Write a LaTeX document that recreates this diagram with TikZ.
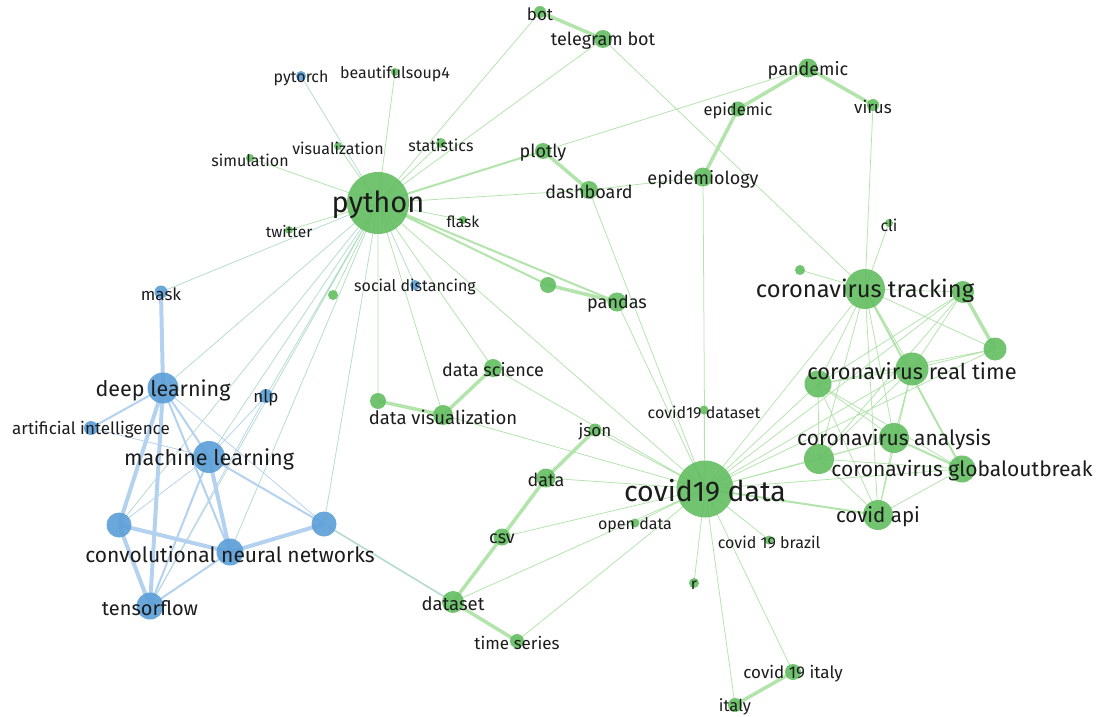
\documentclass[tikz,border=0pt]{standalone}
\usepackage{fontspec}
\setmainfont{Fira Sans}
\usetikzlibrary{backgrounds}

\definecolor{nodegreen}{RGB}{102,191,100}
\definecolor{nodeblue}{RGB}{94,160,216}
\definecolor{edgegreen}{RGB}{178,228,172}
\definecolor{edgeblue}{RGB}{180,210,240}
\definecolor{edgemix}{RGB}{180,220,205}
\definecolor{labelgray}{RGB}{28,28,28}

\pgfdeclarelayer{bg}
\pgfsetlayers{bg,main}

\begin{document}
\begin{tikzpicture}[
        x=1pt, y=-1pt,
        gn/.style={circle, inner sep=0pt, fill=nodegreen, fill opacity=0.92, minimum size=#1},
        bn/.style={circle, inner sep=0pt, fill=nodeblue, fill opacity=0.92, minimum size=#1},
        ge/.style={draw=edgegreen, line width=0.75pt},
        gm/.style={draw=edgegreen, line width=2pt},
        gt/.style={draw=edgegreen, line width=3.5pt},
        be/.style={draw=edgeblue, line width=0.75pt},
        bm/.style={draw=edgeblue, line width=2pt},
        bt/.style={draw=edgeblue, line width=4pt},
        me/.style={draw=edgemix, line width=0.75pt},
        lbl/.style={inner sep=0pt, yshift=-2pt, text=labelgray, font=\fontsize{#1}{#1}\selectfont}
    ]

    \begin{pgfonlayer}{bg}
    \fill[white] (0,0) rectangle (1101,717);
    \end{pgfonlayer}
    \useasboundingbox (0,0) rectangle (1101,717);

    % python cluster
    \node[gn=62] (py) at (378,203) {};
    \node[gn=12] (bot) at (540,12) {};
    \node[gn=18] (tgbot) at (603,39) {};
    \node[gn=8] (bs4) at (395,72) {};
    \node[gn=8] (vis) at (338,146) {};
    \node[gn=10] (stat) at (441,143) {};
    \node[gn=8] (sim) at (250,158) {};
    \node[gn=16] (plotly) at (543,151) {};
    \node[gn=18] (dash) at (589,190) {};
    \node[gn=8] (flask) at (463,220) {};
    \node[gn=8] (twit) at (289,230) {};
    \node[gn=10] (sdot) at (333,295) {};
    \node[gn=16] (pdot) at (548,285) {};
    \node[gn=19] (pandas) at (617,302) {};
    \node[gn=18] (dsci) at (493,368) {};
    \node[gn=16] (dvdot) at (378,401) {};
    \node[gn=20] (dvis) at (443,415) {};

    % epidemic cluster
    \node[gn=19] (pandemic) at (808,68) {};
    \node[gn=15] (epidemic) at (738,109) {};
    \node[gn=12] (virus) at (873,105) {};
    \node[gn=19] (epidem) at (703,177) {};

    % coronavirus cluster
    \node[gn=8] (cli) at (889,223) {};
    \node[gn=10] (cdot) at (800,270) {};
    \node[gn=40] (track) at (865,289) {};
    \node[gn=22] (trA) at (963,292) {};
    \node[gn=23] (trB) at (995,349) {};
    \node[gn=33] (rtime) at (912,369) {};
    \node[gn=27] (crA) at (818,384) {};
    \node[gn=30] (analysis) at (894,438) {};
    \node[gn=30] (crB) at (819,459) {};
    \node[gn=27] (glob) at (962,469) {};
    \node[gn=30] (api) at (878,515) {};

    % covid19 data cluster
    \node[gn=9] (c19ds) at (704,410) {};
    \node[gn=13] (json) at (595,430) {};
    \node[gn=57] (c19) at (705,489) {};
    \node[gn=19] (data) at (546,478) {};
    \node[gn=9] (opendata) at (635,523) {};
    \node[gn=9] (brazil) at (769,540) {};
    \node[gn=17] (csv) at (502,537) {};
    \node[gn=10] (rr) at (694,583) {};
    \node[gn=22] (dataset) at (453,602) {};
    \node[gn=14] (tseries) at (517,641) {};
    \node[gn=16] (italy19) at (793,672) {};
    \node[gn=14] (italy) at (735,705) {};

    % blue cluster
    \node[bn=10] (pytorch) at (301,76) {};
    \node[bn=13] (mask) at (161,292) {};
    \node[bn=10] (socdist) at (415,285) {};
    \node[bn=31] (deep) at (163,388) {};
    \node[bn=14] (nlp) at (266,396) {};
    \node[bn=14] (ai) at (91,428) {};
    \node[bn=32] (ml) at (209,457) {};
    \node[bn=25] (blA) at (119,525) {};
    \node[bn=25] (blB) at (324,524) {};
    \node[bn=27] (cnn) at (230,552) {};
    \node[bn=27] (tf) at (150,606) {};

    \begin{pgfonlayer}{bg}
    % links of python
    \draw[ge] (py.center) -- (bot.center) (py.center) -- (tgbot.center)
        (py.center) -- (bs4.center) (py.center) -- (vis.center)
        (py.center) -- (stat.center) (py.center) -- (sim.center)
        (py.center) -- (dash.center) (py.center) -- (flask.center)
        (py.center) -- (twit.center) (py.center) -- (sdot.center)
        (py.center) -- (dsci.center) (py.center) -- (dvis.center)
        (py.center) -- (dvdot.center) (py.center) -- (c19.center);
    \draw[gm] (py.center) -- (plotly.center) (py.center) -- (pandas.center)
        (py.center) -- (pdot.center);
    \draw[me] (py.center) -- (pytorch.center) (py.center) -- (mask.center)
        (py.center) -- (socdist.center) (py.center) -- (deep.center)
        (py.center) -- (nlp.center) (py.center) -- (ml.center)
        (py.center) -- (blA.center) (py.center) -- (cnn.center)
        (py.center) -- (tf.center) (py.center) -- (blB.center);
    \draw[me, line width=1.6pt] (blB.center) -- (dataset.center);

    % green links
    \draw[ge] (tgbot.center) -- (track.center) (plotly.center) -- (pandemic.center)
        (dash.center) -- (epidem.center) (dash.center) -- (c19.center)
        (epidem.center) -- (c19.center) (c19ds.center) -- (c19.center)
        (virus.center) -- (track.center) (cli.center) -- (track.center)
        (cdot.center) -- (track.center) (pandas.center) -- (c19.center)
        (dsci.center) -- (c19.center) (dvis.center) -- (c19.center)
        (json.center) -- (c19.center) (data.center) -- (c19.center)
        (csv.center) -- (c19.center) (dataset.center) -- (c19.center)
        (tseries.center) -- (c19.center) (opendata.center) -- (c19.center)
        (c19.center) -- (rr.center) (c19.center) -- (italy.center)
        (c19.center) -- (italy19.center) (c19.center) -- (brazil.center);
    \draw[gt] (bot.center) -- (tgbot.center) (plotly.center) -- (dash.center)
        (epidemic.center) -- (pandemic.center) (epidemic.center) -- (epidem.center)
        (pandemic.center) -- (virus.center) (pandas.center) -- (pdot.center)
        (dsci.center) -- (dvis.center) (dvis.center) -- (dvdot.center)
        (json.center) -- (data.center) (data.center) -- (csv.center)
        (csv.center) -- (dataset.center) (dataset.center) -- (tseries.center)
        (italy19.center) -- (italy.center) (trA.center) -- (trB.center);

    % coronavirus links
    \draw[ge] (c19.center) -- (track.center) (c19.center) -- (crA.center)
        (c19.center) -- (rtime.center) (c19.center) -- (analysis.center)
        (c19.center) -- (crB.center) (c19.center) -- (glob.center)
        (c19.center) -- (trA.center) (c19.center) -- (trB.center)
        (track.center) -- (trA.center) (track.center) -- (trB.center)
        (track.center) -- (crA.center) (track.center) -- (analysis.center)
        (track.center) -- (crB.center) (track.center) -- (api.center)
        (track.center) -- (rtime.center)
        (trA.center) -- (rtime.center) (trA.center) -- (crA.center)
        (trA.center) -- (crB.center) (trB.center) -- (rtime.center)
        (trB.center) -- (crA.center) (rtime.center) -- (crA.center)
        (rtime.center) -- (analysis.center) (rtime.center) -- (crB.center)
        (rtime.center) -- (api.center) (crA.center) -- (analysis.center)
        (crA.center) -- (crB.center) (crA.center) -- (glob.center)
        (crA.center) -- (api.center) (analysis.center) -- (crB.center)
        (analysis.center) -- (api.center) (crB.center) -- (glob.center)
        (crB.center) -- (api.center) (glob.center) -- (api.center);
    \draw[gm] (c19.center) -- (api.center) (analysis.center) -- (glob.center)
        (track.center) -- (glob.center);

    % blue links
    \draw[be] (ai.center) -- (ml.center) (ml.center) -- (blA.center)
        (nlp.center) -- (ml.center) (nlp.center) -- (tf.center)
        (deep.center) -- (blB.center);
    \draw[bm] (ml.center) -- (tf.center) (ml.center) -- (blB.center)
        (cnn.center) -- (tf.center) (deep.center) -- (ai.center)
        (deep.center) -- (ml.center) (deep.center) -- (cnn.center);
    \draw[bt] (mask.center) -- (deep.center) (deep.center) -- (blA.center)
        (deep.center) -- (tf.center) (ml.center) -- (cnn.center)
        (blA.center) -- (cnn.center) (blA.center) -- (tf.center)
        (cnn.center) -- (blB.center);
    \end{pgfonlayer}

    % labels
    \node[lbl=29] (py-l) at (py) {python};
    \node[lbl=17] (bot-l) at (bot) {bot};
    \node[lbl=18] (tgbot-l) at (tgbot) {telegram bot};
    \node[lbl=16] (bs4-l) at (bs4) {beautifulsoup4};
    \node[lbl=16] (vis-l) at (vis) {visualization};
    \node[lbl=16] (stat-l) at (stat) {statistics};
    \node[lbl=16] (sim-l) at (sim) {simulation};
    \node[lbl=18] (plotly-l) at (plotly) {plotly};
    \node[lbl=18] (dash-l) at (dash) {dashboard};
    \node[lbl=15.5] (flask-l) at (flask) {flask};
    \node[lbl=15.5] (twit-l) at (twit) {twitter};
    \node[lbl=16] (socdist-l) at (socdist) {social distancing};
    \node[lbl=18] (pandas-l) at (pandas) {pandas};
    \node[lbl=18] (dsci-l) at (dsci) {data science};
    \node[lbl=18.5] (dvis-l) at (dvis) {data visualization};
    \node[lbl=18] (pandemic-l) at (pandemic) {pandemic};
    \node[lbl=16.5] (epidemic-l) at (epidemic) {epidemic};
    \node[lbl=17] (virus-l) at (virus) {virus};
    \node[lbl=18] (epidem-l) at (epidem) {epidemiology};
    \node[lbl=16] (cli-l) at (cli) {cli};
    \node[lbl=23.7] (track-l) at (track) {coronavirus tracking};
    \node[lbl=21.8] (rtime-l) at (rtime) {coronavirus real time};
    \node[lbl=21] (analysis-l) at (analysis) {coronavirus analysis};
    \node[lbl=21] (glob-l) at (glob) {coronavirus globaloutbreak};
    \node[lbl=20.5] (api-l) at (api) {covid api};
    \node[lbl=16] (c19ds-l) at (c19ds) {covid19 dataset};
    \node[lbl=17] (json-l) at (json) {json};
    \node[lbl=28.5] (c19-l) at (c19) {covid19 data};
    \node[lbl=18] (data-l) at (data) {data};
    \node[lbl=16] (opendata-l) at (opendata) {open data};
    \node[lbl=16] (brazil-l) at (brazil) {covid 19 brazil};
    \node[lbl=18] (csv-l) at (csv) {csv};
    \node[lbl=16] (rr-l) at (rr) {r};
    \node[lbl=18.5] (dataset-l) at (dataset) {dataset};
    \node[lbl=17] (tseries-l) at (tseries) {time series};
    \node[lbl=17] (italy19-l) at (italy19) {covid 19 italy};
    \node[lbl=16.5] (italy-l) at (italy) {italy};
    \node[lbl=16] (pytorch-l) at (pytorch) {pytorch};
    \node[lbl=17] (mask-l) at (mask) {mask};
    \node[lbl=21.5] (deep-l) at (deep) {deep learning};
    \node[lbl=17] (nlp-l) at (nlp) {nlp};
    \node[lbl=17] (ai-l) at (ai) {artificial intelligence};
    \node[lbl=21.6] (ml-l) at (ml) {machine learning};
    \node[lbl=21] (cnn-l) at (cnn) {convolutional neural networks};
    \node[lbl=20] (tf-l) at (tf) {tensorflow};

\end{tikzpicture}
\end{document}
